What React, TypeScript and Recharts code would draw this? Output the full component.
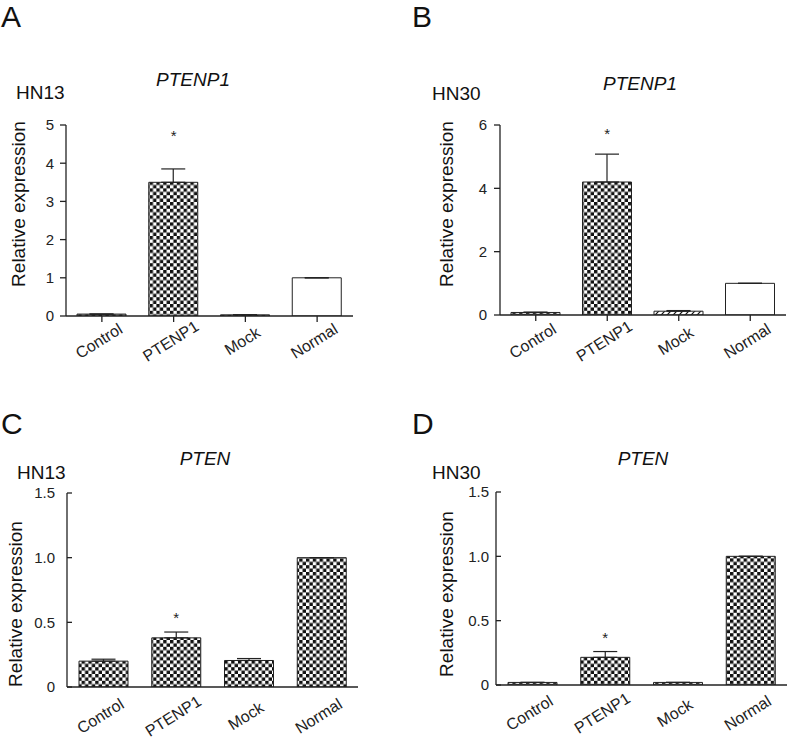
import React from "react";
import {
  ComposedChart,
  Bar,
  Cell,
  ErrorBar,
  Scatter,
  XAxis,
  YAxis,
} from "recharts";

const FONT = '"Liberation Sans", Arial, Helvetica, sans-serif';
const INK = "#222";

const categories = ["Control", "PTENP1", "Mock", "Normal"];

// A: PTENP1 in HN13
const ptenp1Hn13 = [0.05, 3.5, 0.03, 1.0];
const ptenp1Hn13Err = [0, 0.35, 0, 0];
const ptenp1Hn13Star = [null, 4.8, null, null];

// B: PTENP1 in HN30
const ptenp1Hn30 = [0.08, 4.2, 0.12, 1.0];
const ptenp1Hn30Err = [0.01, 0.88, 0.02, 0];
const ptenp1Hn30Star = [null, 5.8, null, null];

// C: PTEN in HN13
const ptenHn13 = [0.2, 0.38, 0.205, 1.0];
const ptenHn13Err = [0.015, 0.045, 0.015, 0];
const ptenHn13Star = [null, 0.555, null, null];

// D: PTEN in HN30
const ptenHn30 = [0.02, 0.215, 0.02, 1.0];
const ptenHn30Err = [0, 0.045, 0, 0];
const ptenHn30Star = [null, 0.39, null, null];

const ticksA = [0, 1, 2, 3, 4, 5];
const ticksB = [0, 2, 4, 6];
const ticksPten = [0, 0.5, 1.0, 1.5];

const toRows = (values: number[], errs: number[], stars: (number | null)[]) =>
  categories.map((name, i) => ({
    name,
    value: values[i],
    err: [0, errs[i]],
    star: stars[i],
  }));

// axisY is the x-axis line in chart coords, drop is how far below it the label centre sits
const CategoryTick = (props: any) => {
  const { x, payload, axisY, drop } = props;
  const cx = x - 3;
  const cy = axisY + drop;
  return (
    <text
      x={cx}
      y={cy}
      textAnchor="middle"
      dominantBaseline="central"
      transform={`rotate(-32 ${cx} ${cy})`}
      fontSize={16}
      fontFamily={FONT}
      fill={INK}
    >
      {payload.value}
    </text>
  );
};

const StarShape = (props: any) => {
  const { cx, cy, payload } = props;
  if (payload == null || payload.star == null || cy == null) return null;
  return (
    <text
      x={cx}
      y={cy + 8}
      textAnchor="middle"
      fontSize={15}
      fontFamily={FONT}
      fill={INK}
    >
      *
    </text>
  );
};

const Patterns = ({ id }: { id: string }) => (
  <defs>
    <pattern
      id={`${id}-check`}
      width={6.8}
      height={6.8}
      patternUnits="userSpaceOnUse"
    >
      <rect width={6.8} height={6.8} fill="#fff" />
      <rect width={3.4} height={3.4} fill="#111" />
      <rect x={3.4} y={3.4} width={3.4} height={3.4} fill="#111" />
    </pattern>
    <pattern
      id={`${id}-hatch`}
      width={6}
      height={6}
      patternUnits="userSpaceOnUse"
    >
      <rect width={6} height={6} fill="#fff" />
      <path d="M0,6 L6,0" stroke="#111" strokeWidth={1.2} />
    </pattern>
  </defs>
);

interface PanelProps {
  id: string;
  data: ReturnType<typeof toRows>;
  fills: string[];
  left: number;
  top: number;
  width: number;
  plotTop: number;
  plotBottom: number;
  right: number;
  yWidth: number;
  domain: [number, number];
  ticks: number[];
  inward: boolean;
  tickMargin: number;
  drop: number;
  decimals: boolean;
}

const Panel = (p: PanelProps) => {
  const height = p.plotBottom + 55;
  const xHeight = height - p.plotBottom;
  return (
    <div style={{ position: "absolute", left: p.left, top: p.top }}>
      <ComposedChart
        width={p.width}
        height={height}
        data={p.data}
        margin={{ top: p.plotTop, right: p.right, left: 0, bottom: 0 }}
      >
        <Patterns id={p.id} />
        <XAxis
          dataKey="name"
          height={xHeight}
          axisLine={{ stroke: INK, strokeWidth: 1.3 }}
          tickLine={p.inward ? false : { stroke: INK, strokeWidth: 1.3 }}
          tickSize={6}
          tick={(t: any) => (
            <CategoryTick {...t} axisY={p.plotBottom} drop={p.drop} />
          )}
          interval={0}
        />
        <YAxis
          width={p.yWidth}
          domain={p.domain}
          ticks={p.ticks}
          allowDataOverflow
          axisLine={{ stroke: INK, strokeWidth: 1.3 }}
          tickLine={{ stroke: INK, strokeWidth: 1.3 }}
          tickSize={p.inward ? -5 : 6}
          tickMargin={p.tickMargin}
          tick={{ fontSize: 15, fontFamily: FONT, fill: INK }}
          tickFormatter={(v: number) =>
            p.decimals && v !== 0 ? v.toFixed(1) : String(v)
          }
        />
        <Bar
          dataKey="value"
          barSize={49}
          stroke={INK}
          strokeWidth={1}
          isAnimationActive={false}
        >
          {p.fills.map((f, i) => (
            <Cell key={categories[i]} fill={f} />
          ))}
          <ErrorBar
            dataKey="err"
            width={12}
            stroke={INK}
            strokeWidth={1.2}
            direction="y"
          />
        </Bar>
        <Scatter dataKey="star" isAnimationActive={false} shape={StarShape} />
      </ComposedChart>
    </div>
  );
};

const Labels = () => {
  const text = { fontFamily: FONT, fill: "#111" } as const;
  return (
    <svg
      width={787}
      height={742}
      style={{ position: "absolute", left: 0, top: 0, pointerEvents: "none" }}
    >
      <g {...text} fontSize={30}>
        <text x={1} y={27}>A</text>
        <text x={412} y={27}>B</text>
        <text x={1} y={434}>C</text>
        <text x={412} y={434}>D</text>
      </g>
      <g {...text} fontSize={19}>
        <text x={16} y={99}>HN13</text>
        <text x={432} y={100}>HN30</text>
        <text x={17} y={479}>HN13</text>
        <text x={432} y={479}>HN30</text>
      </g>
      <g {...text} fontSize={19} fontStyle="italic" textAnchor="middle">
        <text x={193} y={86}>PTENP1</text>
        <text x={640} y={90}>PTENP1</text>
        <text x={205} y={465}>PTEN</text>
        <text x={643} y={465}>PTEN</text>
      </g>
      <g {...text} fontSize={19} textAnchor="middle">
        <text transform="translate(25,204) rotate(-90)">Relative expression</text>
        <text transform="translate(453,204) rotate(-90)">Relative expression</text>
        <text transform="translate(22,604) rotate(-90)">Relative expression</text>
        <text transform="translate(453,594) rotate(-90)">Relative expression</text>
      </g>
    </svg>
  );
};

export default function App() {
  const rowsA = toRows(ptenp1Hn13, ptenp1Hn13Err, ptenp1Hn13Star);
  const rowsB = toRows(ptenp1Hn30, ptenp1Hn30Err, ptenp1Hn30Star);
  const rowsC = toRows(ptenHn13, ptenHn13Err, ptenHn13Star);
  const rowsD = toRows(ptenHn30, ptenHn30Err, ptenHn30Star);

  return (
    <div
      style={{
        position: "absolute",
        left: 0,
        top: 0,
        width: 787,
        height: 742,
        background: "#fff",
      }}
    >
      <Panel
        id="pa"
        data={rowsA}
        fills={["url(#pa-check)", "url(#pa-check)", "url(#pa-check)", "#fff"]}
        left={0}
        top={100}
        width={380}
        plotTop={25}
        plotBottom={216}
        right={27}
        yWidth={66}
        domain={[0, 5]}
        ticks={ticksA}
        inward={false}
        tickMargin={6}
        drop={25}
        decimals={false}
      />
      <Panel
        id="pb"
        data={rowsB}
        fills={["url(#pb-check)", "url(#pb-check)", "url(#pb-hatch)", "#fff"]}
        left={390}
        top={100}
        width={397}
        plotTop={25}
        plotBottom={215}
        right={1}
        yWidth={110}
        domain={[0, 6]}
        ticks={ticksB}
        inward={false}
        tickMargin={7}
        drop={26}
        decimals={false}
      />
      <Panel
        id="pc"
        data={rowsC}
        fills={["url(#pc-check)", "url(#pc-check)", "url(#pc-check)", "url(#pc-check)"]}
        left={0}
        top={470}
        width={390}
        plotTop={23}
        plotBottom={217}
        right={32}
        yWidth={67}
        domain={[0, 1.5]}
        ticks={ticksPten}
        inward={true}
        tickMargin={17}
        drop={29}
        decimals={true}
      />
      <Panel
        id="pd"
        data={rowsD}
        fills={["url(#pd-check)", "url(#pd-check)", "url(#pd-check)", "url(#pd-check)"]}
        left={390}
        top={470}
        width={397}
        plotTop={22}
        plotBottom={215}
        right={0}
        yWidth={106}
        domain={[0, 1.5]}
        ticks={ticksPten}
        inward={true}
        tickMargin={12}
        drop={28}
        decimals={true}
      />
      <Labels />
    </div>
  );
}
